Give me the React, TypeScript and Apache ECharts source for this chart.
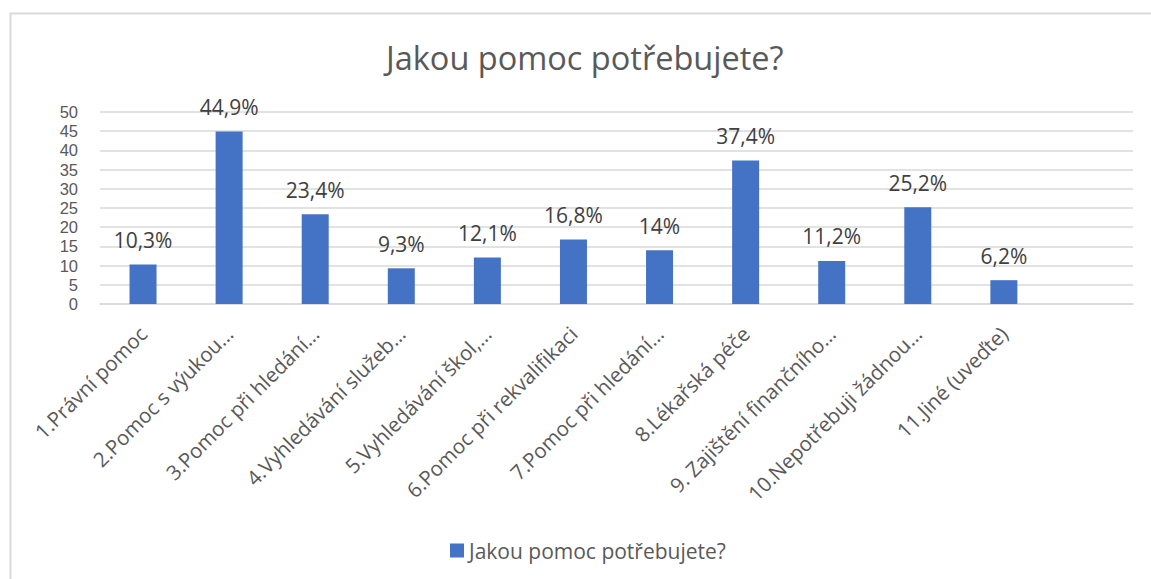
import React, { useEffect, useRef } from "react";
import * as echarts from "echarts";

const categories = [
  "1.Právní pomoc",
  "2.Pomoc s výukou…",
  "3.Pomoc při hledání…",
  "4.Vyhledávání služeb…",
  "5.Vyhledávání škol,…",
  "6.Pomoc při rekvalifikaci",
  "7.Pomoc při hledání…",
  "8.Lékařská péče",
  "9. Zajištění finančního…",
  "10.Nepotřebuji žádnou…",
  "11.Jiné (uveďte)",
  "",
];
const values: (number | null)[] = [10.3, 44.9, 23.4, 9.3, 12.1, 16.8, 14, 37.4, 11.2, 25.2, 6.2, null];
const seriesName = "Jakou pomoc potřebujete?";
const titleText = "Jakou pomoc potřebujete?";
const yMin = 0;
const yMax = 50;
const yInterval = 5;

const FONT = "'Open Sans', 'Noto Sans', sans-serif";

export default function App() {
  const ref = useRef<HTMLDivElement>(null);
  useEffect(() => {
    if (!ref.current) return;
    const chart = echarts.init(ref.current, undefined, { renderer: "svg" });
    chart.setOption({
      animation: false,
      backgroundColor: "#ffffff",
      textStyle: { fontFamily: FONT },
      title: {
        text: titleText,
        left: 381,
        top: 36,
        textStyle: { fontFamily: FONT, fontSize: 32.5, fontWeight: "normal", color: "#595959" },
      },
      legend: {
        left: 445,
        top: 535,
        itemWidth: 14,
        itemHeight: 14,
        icon: "rect",
        itemGap: 6,
        textStyle: { fontFamily: FONT, fontSize: 21, color: "#595959" },
        data: [seriesName],
      },
      graphic: [
        {
          type: "rect",
          shape: { x: 10.5, y: 13.5, width: 1150, height: 580 },
          style: { fill: "none", stroke: "#d9d9d9", lineWidth: 2 },
          silent: true,
        },
      ],
      grid: { left: 100, right: 18, top: 112, bottom: 275, containLabel: false },
      xAxis: {
        type: "category",
        data: categories,
        axisTick: { show: false },
        axisLine: { show: true, lineStyle: { color: "#d9d9d9", width: 1.5 } },
        axisLabel: {
          interval: 0,
          rotate: 45,
          margin: 26,
          fontFamily: FONT,
          fontSize: 20.5,
          color: "#595959",
        },
      },
      yAxis: {
        type: "value",
        min: yMin,
        max: yMax,
        interval: yInterval,
        axisLine: { show: false },
        axisTick: { show: false },
        splitLine: { lineStyle: { color: "#d9d9d9", width: 1.5 } },
        axisLabel: {
          fontFamily: "'Liberation Sans', Arial, sans-serif",
          fontSize: 16.5,
          lineHeight: 17,
          color: "#595959",
          margin: 22,
          showMinLabel: true,
          showMaxLabel: true,
          hideOverlap: false,
        },
      },
      series: [
        {
          name: seriesName,
          type: "bar",
          data: values,
          barWidth: 27,
          itemStyle: { color: "#4472C4" },
          label: {
            show: true,
            position: "top",
            distance: 14,
            fontFamily: FONT,
            fontSize: 21,
            color: "#404040",
            formatter: (p: any) => String(p.value).replace(".", ",") + "%",
          },
        },
      ],
    });
    return () => chart.dispose();
  }, []);
  return (
    <div
      ref={ref}
      style={{ position: "absolute", left: 0, top: 0, width: 1151, height: 579 }}
    />
  );
}
